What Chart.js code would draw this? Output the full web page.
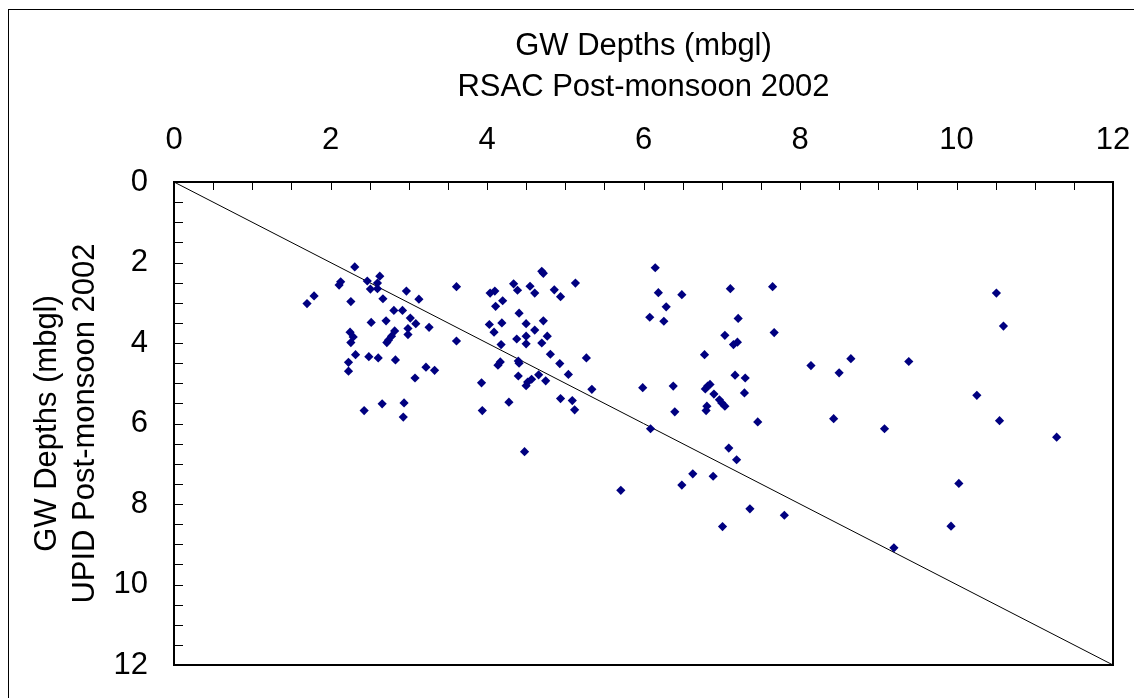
<!DOCTYPE html>
<html><head><meta charset="utf-8">
<script src="https://cdn.jsdelivr.net/npm/chart.js@4"></script>
<style>html,body{margin:0;padding:0;background:#fff}#wrap{width:1134px;height:698px}</style>
</head><body><div id="wrap"><canvas id="c" width="1134" height="698"></canvas></div>
<script>
// RSAC post-monsoon 2002 depth (x) vs UPID post-monsoon 2002 depth (y), mbgl
const rsacDepths = [
  2.31,2.47,2.63,2.13,2.11,2.60,2.51,2.60,1.79,1.70,2.26,2.97,3.13,3.61,2.67,2.81,2.92,3.02,3.09,3.26,
  2.52,2.71,2.99,2.99,2.82,2.78,2.74,2.72,2.25,2.29,2.26,3.61,2.32,2.49,2.61,2.83,2.23,2.23,3.22,3.33,
  3.08,3.93,2.66,2.43,2.94,2.93,3.94,
  4.70,4.72,4.34,4.39,4.55,4.61,4.04,4.10,4.20,4.11,4.86,4.94,5.13,4.41,4.03,4.19,4.09,4.50,4.72,4.61,
  4.38,4.50,4.50,4.77,4.70,4.18,4.81,5.27,4.17,4.14,4.40,4.41,4.93,5.04,4.66,4.40,4.57,4.52,4.50,4.75,
  5.34,4.28,4.94,5.09,5.12,4.48,5.71,
  6.15,6.19,6.49,6.29,6.08,6.26,7.11,7.65,7.21,7.67,7.04,7.20,7.15,6.78,5.99,6.38,7.17,7.30,6.85,6.82,
  6.79,6.90,7.29,6.97,7.00,7.04,6.81,6.80,6.40,7.46,6.09,8.43,7.09,7.19,6.63,6.89,6.49,7.36,7.80,7.01,
  8.14,8.65,8.50,9.39,9.08,10.51,10.60,10.26,10.55,11.28,10.03,9.93,9.20
];
const upidDepths = [
  2.11,2.46,2.34,2.48,2.56,2.51,2.66,2.65,2.83,3.02,2.97,2.71,2.91,2.60,2.90,3.19,3.19,3.38,3.52,3.61,
  3.49,3.45,3.64,3.79,3.70,3.83,3.93,3.99,3.73,3.85,3.99,3.95,4.29,4.34,4.37,4.42,4.48,4.70,4.60,4.68,
  4.87,4.99,5.51,5.68,5.49,5.84,5.68,
  2.22,2.27,2.53,2.69,2.59,2.76,2.76,2.71,2.95,3.09,2.68,2.85,2.51,3.26,3.54,3.50,3.73,3.52,3.45,3.68,
  3.90,3.83,4.02,3.83,4.00,4.04,4.28,4.37,4.47,4.55,4.45,4.50,4.51,4.78,4.79,4.82,4.90,4.97,5.06,4.94,
  5.15,5.47,5.38,5.43,5.66,6.70,7.66,
  2.13,2.75,2.80,3.10,3.36,3.46,2.65,2.60,3.39,3.74,3.81,3.98,4.04,4.29,5.11,5.07,4.80,4.87,5.03,5.07,
  5.14,5.27,5.24,5.41,5.49,5.57,5.57,5.68,5.71,5.96,6.13,5.88,6.61,6.90,7.25,7.31,7.53,8.12,8.28,8.56,
  4.56,4.39,4.74,4.46,6.13,2.76,3.58,5.30,5.93,6.34,7.49,8.55,9.09
];
const xTickLabels = [0,2,4,6,8,10,12];
const yTickLabels = [0,2,4,6,8,10,12];
const equalityLine = [0,12];
const xTitle = ['GW Depths (mbgl)','RSAC Post-monsoon 2002'];
const yTitle = ['GW Depths (mbgl)','UPID Post-monsoon 2002'];

const FONT = "'Liberation Sans', Arial, sans-serif";
Chart.defaults.font.family = FONT;
Chart.defaults.color = '#000';

const minorStep = 0.5;
const framePlugin = {
  id: 'frame',
  beforeDraw(chart) {
    const ctx = chart.ctx;
    ctx.save(); ctx.fillStyle = '#fff'; ctx.fillRect(0,0,chart.width,chart.height); ctx.restore();
  },
  afterDraw(chart) {
    const {ctx, chartArea: a, scales: {x, y}} = chart;
    ctx.save();
    ctx.strokeStyle = '#000';
    ctx.lineWidth = 1;
    ctx.strokeRect(8.5, 9.5, 1300, 900);
    ctx.beginPath();
    for (let v = x.min; v <= x.max + 1e-9; v += minorStep) {
      const px = Math.round(x.getPixelForValue(v)) + 0.5;
      ctx.moveTo(px, a.top); ctx.lineTo(px, a.top + 8);
    }
    for (let v = y.min; v <= y.max + 1e-9; v += minorStep) {
      const py = Math.round(y.getPixelForValue(v)) + 0.5;
      ctx.moveTo(a.left, py); ctx.lineTo(a.left + 9, py);
    }
    ctx.stroke();
    ctx.lineWidth = 2;
    ctx.strokeRect(a.left, a.top, a.right - a.left, a.bottom - a.top);
    ctx.restore();
  }
};

new Chart(document.getElementById('c'), {
  type: 'scatter',
  data: {
    datasets: [
      {
        data: rsacDepths.map((v, i) => ({x: v, y: upidDepths[i]})),
        pointStyle: 'rectRot',
        pointRadius: 4.6,
        pointBackgroundColor: '#000080',
        pointBorderColor: '#000080',
        pointBorderWidth: 0,
        order: 1
      },
      {
        type: 'line',
        data: equalityLine.map(v => ({x: v, y: v})),
        borderColor: '#000',
        borderWidth: 1,
        pointRadius: 0,
        fill: false,
        order: 2
      }
    ]
  },
  options: {
    responsive: false,
    animation: false,
    devicePixelRatio: 1,
    layout: {padding: {left: 0, top: 0, right: 21, bottom: 33}},
    plugins: {legend: {display: false}, tooltip: {enabled: false}},
    scales: {
      x: {
        type: 'linear', position: 'top', min: 0, max: 12,
        afterBuildTicks: s => { s.ticks = xTickLabels.map(v => ({value: v})); },
        afterFit: s => { s.height = 182; s.paddingLeft = 0; s.paddingRight = 0; },
        grid: {display: false, drawTicks: false},
        border: {display: false},
        ticks: {font: {size: 31}, color: '#000', padding: 23, maxRotation: 0},
        title: {display: true, text: xTitle, color: '#000',
                font: {size: 31, lineHeight: 1.32}, padding: {top: 26, bottom: 0}}
      },
      y: {
        type: 'linear', position: 'left', reverse: true, min: 0, max: 12,
        afterBuildTicks: s => { s.ticks = yTickLabels.map(v => ({value: v})); },
        afterFit: s => { s.width = 174; s.paddingTop = 0; s.paddingBottom = 0; },
        grid: {display: false, drawTicks: false},
        border: {display: false},
        ticks: {font: {size: 31}, color: '#000', padding: 26},
        title: {display: true, text: yTitle, color: '#000',
                font: {size: 31, lineHeight: 1.23}, padding: {top: 28, bottom: 0}}
      }
    }
  },
  plugins: [framePlugin]
});
</script>
</body></html>
